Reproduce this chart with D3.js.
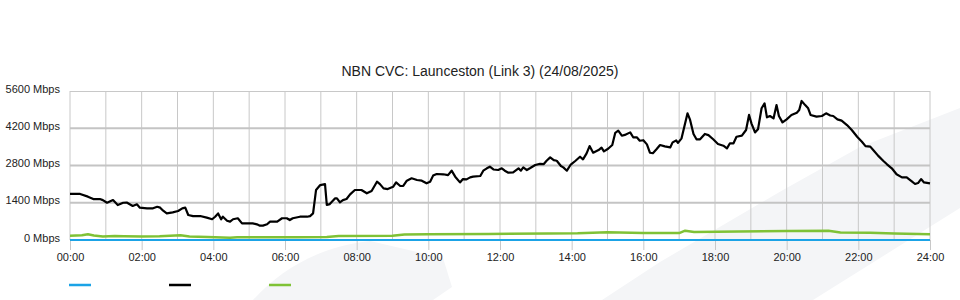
<!DOCTYPE html>
<html>
<head>
<meta charset="utf-8">
<script src="https://cdn.jsdelivr.net/npm/d3@7"></script>
<style>
body{margin:0;background:#fff;}
svg{display:block;font-family:"Liberation Sans",Arial,sans-serif;}
</style>
</head>
<body>
<svg id="chart" width="960" height="300"></svg>
<script>

var chartTitle = "NBN CVC: Launceston (Link 3) (24/08/2025)";
var yTickVals = [0, 1400, 2800, 4200, 5600];
var xTickLabels = ["00:00","02:00","04:00","06:00","08:00","10:00","12:00","14:00","16:00","18:00","20:00","22:00","24:00"];
var gridHours = [0,1,2,3,4,5,6,7,8,9,10,11,12,13,14,15,16,17,18,19,20,21,22,23,24];

// minutes since midnight / Mbps
var blueMins = [0, 1440];
var blueVals = [0, 0];

var blackMins = [0,17,30,39,50,55,62,72,80,89,95,105,112,117,129,139,146,151,156,162,172,181,188,193,198,206,218,229,238,243,248,253,256,263,268,273,281,288,296,306,313,318,323,330,335,347,355,363,368,373,385,397,402,407,412,419,427,430,435,444,447,452,457,463,469,477,488,497,505,514,519,525,532,541,546,553,558,564,572,581,589,597,603,608,614,625,633,639,645,653,658,664,670,675,687,692,698,703,709,717,723,728,734,742,751,755,759,765,770,779,787,793,798,804,810,815,822,826,832,838,846,854,859,865,870,876,885,890,894,901,908,913,918,924,929,938,943,949,954,960,966,971,976,982,988,996,1005,1009,1015,1018,1024,1030,1034,1038,1044,1049,1055,1063,1069,1077,1085,1094,1100,1105,1111,1116,1125,1132,1137,1141,1147,1152,1158,1163,1167,1172,1178,1183,1187,1193,1200,1208,1217,1221,1225,1231,1236,1240,1250,1259,1266,1273,1278,1285,1292,1301,1309,1318,1326,1332,1340,1346,1353,1362,1368,1376,1384,1393,1401,1409,1415,1420,1425,1430,1440];
var blackVals = [1730,1730,1630,1540,1540,1500,1400,1500,1315,1400,1410,1280,1340,1215,1190,1190,1250,1215,1100,1000,1040,1090,1190,1215,940,900,900,840,780,875,1000,780,875,725,690,780,818,625,625,625,590,540,540,590,690,690,818,818,750,818,875,875,900,1000,1880,2065,2100,1315,1350,1565,1565,1415,1500,1540,1715,1880,1880,1755,1840,2190,2100,1940,1915,2000,2165,2030,2030,2230,2320,2255,2230,2130,2190,2420,2480,2470,2440,2605,2380,2165,2290,2280,2355,2380,2405,2605,2695,2755,2650,2630,2695,2605,2530,2545,2695,2605,2730,2630,2695,2820,2860,2850,2980,3105,3000,2980,2780,2730,2605,2820,2970,3130,3030,3255,3530,3280,3380,3470,3330,3430,3570,4030,4110,3920,3950,4045,3860,3860,3730,3750,3595,3280,3260,3410,3570,3520,3480,3670,3740,3650,3820,4385,4760,4535,3985,3785,3785,3985,3940,3785,3610,3545,3445,3635,3635,3880,3920,4135,4700,4385,4045,4160,4950,5135,4610,4660,4570,5070,4660,4420,4535,4700,4785,4885,5225,5070,4950,4700,4635,4660,4760,4680,4660,4535,4485,4320,4135,3880,3695,3530,3510,3355,3170,2970,2845,2695,2470,2355,2355,2215,2105,2140,2290,2165,2130];

var greenMins = [0,20,30,40,55,75,90,120,150,185,200,230,268,280,380,430,450,540,560,600,700,800,850,900,960,1020,1030,1045,1120,1200,1270,1290,1340,1380,1440];
var greenVals = [160,175,215,170,130,150,140,130,140,180,130,110,80,100,100,110,150,160,210,220,230,240,250,290,260,260,350,300,320,340,350,280,270,240,220];

var svg = d3.select("#chart");

// light background swoosh
svg.append("path")
	.attr("d", "M253,300 C280,270 320,246 370,241 L443,258 L452,287 L433,300 Z")
	.attr("fill", "#f4f5f7");
svg.append("path")
	.attr("d", "M602,300 L660,262 L783,190 L860,147 L960,108 L960,208 L813,300 Z")
	.attr("fill", "#f4f5f7");

var x = d3.scaleLinear().domain([0, 1440]).range([70, 930]);
var y = d3.scaleLinear().domain([0, 5600]).range([240, 91]);

svg.append("text")
	.attr("x", 480).attr("y", 76)
	.attr("text-anchor", "middle")
	.attr("font-size", 14)
	.attr("fill", "#222")
	.text(chartTitle);

// grid
var grid = svg.append("g");
grid.selectAll("line.v")
	.data(gridHours)
	.enter().append("line")
	.attr("class", "v")
	.attr("x1", function(d){ return x(d*60); })
	.attr("x2", function(d){ return x(d*60); })
	.attr("y1", y(5600)).attr("y2", y(0))
	.attr("stroke", "#c8c8c8").attr("stroke-width", 1);

grid.selectAll("line.h")
	.data(yTickVals.filter(function(d){ return d > 0 && d < 5600; }))
	.enter().append("line")
	.attr("class", "h")
	.attr("x1", x(0)).attr("x2", x(1440))
	.attr("y1", function(d){ return y(d); })
	.attr("y2", function(d){ return y(d); })
	.attr("stroke", "#c4c4c4").attr("stroke-width", 2);

grid.append("line")
	.attr("x1", x(0)).attr("x2", x(1440))
	.attr("y1", y(5600)+0.5).attr("y2", y(5600)+0.5)
	.attr("stroke", "#c8c8c8");

// axes
var yAxis = svg.append("g")
	.attr("transform", "translate(" + x(0) + ",0)")
	.call(d3.axisLeft(y).tickValues(yTickVals).tickSize(0).tickPadding(10)
		.tickFormat(function(d){ return d + " Mbps"; }));
yAxis.select(".domain").remove();
yAxis.selectAll("text").attr("font-size", 11).attr("fill", "#222")
	.attr("dy", "0.1em")
	.attr("font-family", "Liberation Sans, Arial, sans-serif");

var xAxis = svg.append("g")
	.attr("transform", "translate(0," + y(0) + ")")
	.call(d3.axisBottom(x).tickValues(xTickLabels.map(function(d, i){ return i*120; }))
		.tickSize(10).tickPadding(3)
		.tickFormat(function(d, i){ return xTickLabels[i]; }));
xAxis.select(".domain").remove();
xAxis.selectAll("line").attr("stroke", "#c8c8c8");
xAxis.selectAll("text").attr("font-size", 11).attr("fill", "#222").attr("font-family", "Liberation Sans, Arial, sans-serif");

// series
function drawSeries(mins, vals, colour, width){
	var pts = mins.map(function(m, i){ return [m, vals[i]]; });
	var line = d3.line()
		.x(function(d){ return x(d[0]); })
		.y(function(d){ return y(d[1]); });
	svg.append("path")
		.datum(pts)
		.attr("d", line)
		.attr("fill", "none")
		.attr("stroke", colour)
		.attr("stroke-width", width)
		.attr("stroke-linejoin", "round");
}

drawSeries(blueMins, blueVals, "#1ba3e6", 2);
drawSeries(greenMins, greenVals, "#7fc236", 2.5);
drawSeries(blackMins, blackVals, "#000", 2.2);

// legend (no labels)
var legendColours = ["#1ba3e6", "#000", "#7fc236"];
svg.selectAll("line.legend")
	.data(legendColours)
	.enter().append("line")
	.attr("class", "legend")
	.attr("x1", function(d, i){ return 69 + i*100; })
	.attr("x2", function(d, i){ return 91 + i*100; })
	.attr("y1", 285).attr("y2", 285)
	.attr("stroke", function(d){ return d; })
	.attr("stroke-width", 2.5);

</script>
</body>
</html>
